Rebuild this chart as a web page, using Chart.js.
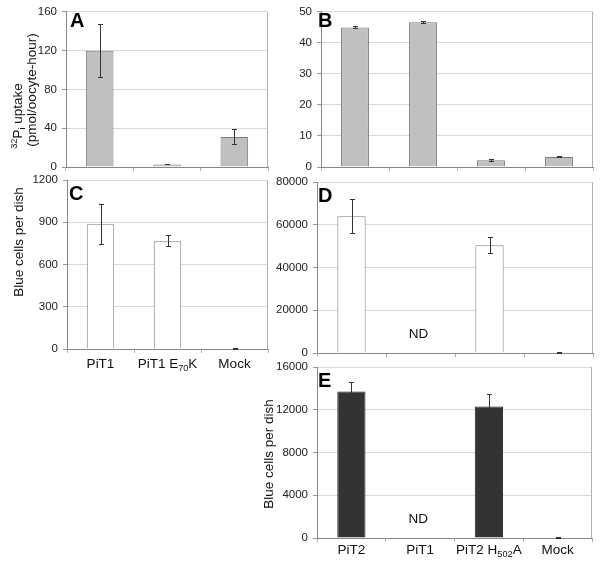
<!DOCTYPE html>
<html>
<head>
<meta charset="utf-8">
<script src="https://cdn.jsdelivr.net/npm/chart.js@4.4.1/dist/chart.umd.min.js"></script>
<style>
  html, body { margin: 0; padding: 0; background: #fff; }
  #wrap { position: relative; width: 600px; height: 564px; }
  #wrap canvas { position: absolute; left: 0; top: 0; }
</style>
</head>
<body>
<div id="wrap">
  <canvas id="panelA" width="600" height="564"></canvas>
  <canvas id="panelB" width="600" height="564"></canvas>
  <canvas id="panelC" width="600" height="564"></canvas>
  <canvas id="panelD" width="600" height="564"></canvas>
  <canvas id="panelE" width="600" height="564"></canvas>
</div>
<script>
// categories (_{..} = subscript, ^{..} = superscript)
const catsLeft = ['PiT1', 'PiT1 E_{70}K', 'Mock'];
const catsRight = ['PiT2', 'PiT1', 'PiT2 H_{502}A', 'Mock'];

// A: 32Pi uptake, PiT1 constructs
const uptakeA = [120, 2.5, 31];
const uptakeErrA = [28, 0.5, 8.5];
// B: 32Pi uptake, PiT2 constructs
const uptakeB = [45.0, 46.7, 2.2, 3.2];
const uptakeErrB = [0.4, 0.5, 0.5, 0.2];
// C: blue cells per dish
const blueC = [885, 765, 0];
const blueErrC = [148, 42, 0];
// D: blue cells per dish (null = ND)
const blueD = [64000, null, 50400, 0];
const blueErrD = [8200, null, 4100, 0];
// E: blue cells per dish (null = ND)
const blueE = [13700, null, 12300, 0];
const blueErrE = [890, null, 1190, 0];

// y tick setup
const maxA = 160, stepA = 40;
const maxB = 50, stepB = 10;
const maxC = 1200, stepC = 300;
const maxD = 80000, stepD = 20000;
const maxE = 16000, stepE = 4000;

const FONT = '"Liberation Sans", Arial, Helvetica, sans-serif';

function parseRich(text) {
  const parts = [];
  const re = /([_^])\{([^}]*)\}/g;
  let last = 0, m;
  while ((m = re.exec(text))) {
    if (m.index > last) parts.push({ t: text.slice(last, m.index), mode: '' });
    parts.push({ t: m[2], mode: m[1] });
    last = re.lastIndex;
  }
  if (last < text.length) parts.push({ t: text.slice(last), mode: '' });
  return parts;
}

function drawRich(ctx, text, cx, cy, size, rotated) {
  const parts = parseRich(text);
  const small = size * 0.68;
  let total = 0;
  parts.forEach(p => {
    ctx.font = (p.mode ? small : size) + 'px ' + FONT;
    p.w = ctx.measureText(p.t).width;
    total += p.w;
  });
  ctx.save();
  ctx.translate(cx, cy);
  if (rotated) ctx.rotate(-Math.PI / 2);
  ctx.textAlign = 'left';
  ctx.textBaseline = 'alphabetic';
  ctx.fillStyle = '#111';
  let px = -total / 2;
  parts.forEach(p => {
    ctx.font = (p.mode ? small : size) + 'px ' + FONT;
    const dy = p.mode === '_' ? size * 0.22 : (p.mode === '^' ? -size * 0.4 : 0);
    ctx.fillText(p.t, px, dy);
    px += p.w;
  });
  ctx.restore();
}

const panelExtras = {
  id: 'panelExtras',
  afterDatasetsDraw(chart, args, opts) {
    const ctx = chart.ctx;
    const area = chart.chartArea;
    const xs = chart.scales.x, ys = chart.scales.y;
    const vals = chart.data.datasets[0].data;
    ctx.save();
    // right frame of plot area
    ctx.strokeStyle = '#b0b0b0';
    ctx.lineWidth = 1;
    ctx.beginPath();
    ctx.moveTo(Math.round(area.right) - 0.5, area.top);
    ctx.lineTo(Math.round(area.right) - 0.5, area.bottom);
    ctx.stroke();

    // error bars
    ctx.strokeStyle = '#333';
    opts.errs.forEach((e, i) => {
      if (vals[i] === null || e === null) return;
      const cx = Math.round(xs.getPixelForValue(i)) + 0.5;
      const top = Math.round(ys.getPixelForValue(vals[i] + e)) + 0.5;
      const bot = Math.round(ys.getPixelForValue(vals[i] - e)) - 0.5;
      ctx.beginPath();
      ctx.moveTo(cx, top); ctx.lineTo(cx, bot);
      ctx.moveTo(cx - 2.5, top); ctx.lineTo(cx + 2.5, top);
      ctx.moveTo(cx - 2.5, bot); ctx.lineTo(cx + 2.5, bot);
      ctx.stroke();
    });

    // ND markers
    vals.forEach((v, i) => {
      if (v !== null) return;
      ctx.font = '13.5px ' + FONT;
      ctx.fillStyle = '#111';
      ctx.textAlign = 'center';
      ctx.textBaseline = 'alphabetic';
      ctx.fillText('ND', xs.getPixelForValue(i) - 2, area.bottom - 15.5);
    });

    // category labels
    if (opts.showLabels) {
      chart.data.labels.forEach((lab, i) => {
        drawRich(ctx, lab, xs.getPixelForValue(i), area.bottom + opts.labelGap, 13.5, false);
      });
    }

    // axis titles
    (opts.titles || []).forEach(t => drawRich(ctx, t.text, t.x, t.y, 13.5, true));

    // panel letter
    ctx.font = 'bold 20px ' + FONT;
    ctx.fillStyle = '#000';
    ctx.textAlign = 'left';
    ctx.textBaseline = 'alphabetic';
    ctx.fillText(opts.letter, opts.letterPos[0], opts.letterPos[1]);
    ctx.restore();
  }
};

function makePanel(id, p) {
  const yW = 55, xH = 20;
  new Chart(document.getElementById(id), {
    type: 'bar',
    data: {
      labels: p.labels,
      datasets: [{
        data: p.values,
        backgroundColor: p.fill,
        borderColor: p.edge,
        borderWidth: 1,
        categoryPercentage: 1,
        barPercentage: 0.41
      }]
    },
    options: {
      responsive: false,
      animation: false,
      events: [],
      layout: {
        padding: { left: p.area.l - yW, top: p.area.t, right: 600 - p.area.r, bottom: 564 - p.area.b - xH }
      },
      scales: {
        x: {
          afterFit: s => { s.height = xH; },
          ticks: { display: false },
          grid: { offset: true, drawOnChartArea: false, drawTicks: true, tickLength: 4, color: '#b0b0b0' },
          border: { color: '#888' }
        },
        y: {
          min: 0,
          max: p.max,
          afterFit: s => { s.width = yW; },
          ticks: {
            stepSize: p.step, padding: 5, color: '#222',
            font: { family: FONT, size: 11.5 },
            callback: v => String(v)
          },
          grid: { color: '#d9d9d9', tickLength: 4, tickColor: '#999' },
          border: { color: '#888' }
        }
      },
      plugins: {
        legend: { display: false },
        tooltip: { enabled: false },
        panelExtras: {
          errs: p.errs,
          showLabels: p.showLabels,
          labelGap: p.labelGap,
          titles: p.titles,
          letter: p.letter,
          letterPos: p.letterPos
        }
      }
    },
    plugins: [panelExtras]
  });
}

makePanel('panelA', {
  labels: catsLeft, values: uptakeA, errs: uptakeErrA, max: maxA, step: stepA,
  fill: '#c0c0c0', edge: '#7a7a7a',
  area: { l: 66, t: 7, r: 268, b: 167 },
  showLabels: false, letter: 'A', letterPos: [70, 27],
  titles: [
    { text: '^{32}P_{i} uptake', x: 22, y: 116 },
    { text: '(pmol/oocyte-hour)', x: 36, y: 90 }
  ]
});

makePanel('panelB', {
  labels: catsRight, values: uptakeB, errs: uptakeErrB, max: maxB, step: stepB,
  fill: '#c0c0c0', edge: '#7a7a7a',
  area: { l: 321, t: 7, r: 593, b: 167 },
  showLabels: false, letter: 'B', letterPos: [318, 27],
  titles: []
});

makePanel('panelC', {
  labels: catsLeft, values: blueC, errs: blueErrC, max: maxC, step: stepC,
  fill: '#ffffff', edge: '#808080',
  area: { l: 67, t: 180, r: 268, b: 349 },
  showLabels: true, labelGap: 19, letter: 'C', letterPos: [69, 200],
  titles: [{ text: 'Blue cells per dish', x: 23, y: 242 }]
});

makePanel('panelD', {
  labels: catsRight, values: blueD, errs: blueErrD, max: maxD, step: stepD,
  fill: '#ffffff', edge: '#808080',
  area: { l: 317, t: 182, r: 593, b: 353 },
  showLabels: false, letter: 'D', letterPos: [318, 202],
  titles: []
});

makePanel('panelE', {
  labels: catsRight, values: blueE, errs: blueErrE, max: maxE, step: stepE,
  fill: '#333333', edge: '#222222',
  area: { l: 317, t: 367, r: 592, b: 538 },
  showLabels: true, labelGap: 16, letter: 'E', letterPos: [318, 387],
  titles: [{ text: 'Blue cells per dish', x: 273, y: 454 }]
});
</script>
</body>
</html>
